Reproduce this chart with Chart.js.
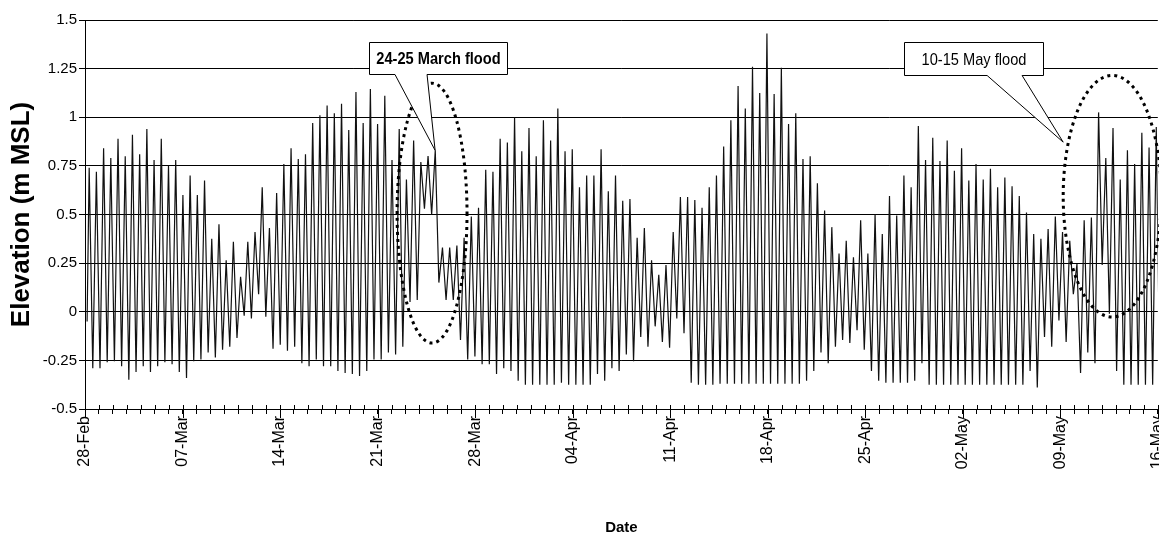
<!DOCTYPE html>
<html>
<head>
<meta charset="utf-8">
<script src="https://cdn.jsdelivr.net/npm/chart.js@4.4.1/dist/chart.umd.min.js"></script>
<style>
html,body{margin:0;padding:0;background:#fff;overflow:hidden;}
#wrap{position:relative;width:1179px;height:547px;}
</style>
</head>
<body>
<div id="wrap"><canvas id="c"></canvas></div>
<script>
// ---- tick labels ----
const xTickLabels = ['28-Feb','07-Mar','14-Mar','21-Mar','28-Mar','04-Apr','11-Apr','18-Apr','25-Apr','02-May','09-May','16-May'];
const yTickLabels = ['-0.5','-0.25','0','0.25','0.5','0.75','1','1.25','1.5'];

// ---- time base (days after 28-Feb) ----
const startDay = 0.15;
const startLevel = -0.05;
const firstHighDay = 0.3;
const tidePeriodDays = 0.5175;

// ---- high-water levels (m MSL), one per tide ----
const highs = [
 0.74,0.72,0.84,0.79,0.89,0.80,0.91,0.81,0.94,0.78,
 0.89,0.75,0.78,0.60,0.70,0.60,0.675,0.375,0.45,0.265,
 0.36,0.18,0.36,0.41,0.64,0.43,0.61,0.76,0.84,0.785,
 0.81,0.97,1.01,1.06,1.02,1.07,0.935,1.13,0.97,1.145,
 0.965,1.11,0.78,0.94,0.68,0.88,0.77,0.80,0.83,0.33,
 0.33,0.34,0.38,0.49,0.535,0.73,0.72,0.89,0.87,1.0,
 0.825,0.945,0.80,0.985,0.88,1.045,0.825,0.835,0.64,0.70,
 0.70,0.835,0.62,0.70,0.57,0.58,0.38,0.43,0.265,0.19,
 0.24,0.41,0.59,0.59,0.575,0.535,0.64,0.70,0.85,0.985,
 1.16,1.045,1.26,1.125,1.43,1.12,1.255,0.965,1.02,0.785,
 0.80,0.66,0.52,0.435,0.30,0.365,0.28,0.47,0.30,0.50,
 0.40,0.595,0.495,0.70,0.64,0.955,0.78,0.895,0.775,0.88,
 0.725,0.84,0.675,0.76,0.68,0.735,0.64,0.69,0.645,0.595,
 0.51,0.40,0.375,0.425,0.49,0.41,0.365,0.245,0.47,0.485,
 1.025,0.79,0.945,0.68,0.83,0.76,0.92,0.845,0.95
];
// ---- low-water levels (m MSL), the low after each high ----
const lows = [
 -0.29,-0.29,-0.26,-0.255,-0.28,-0.35,-0.31,-0.28,-0.31,-0.28,
 -0.26,-0.27,-0.31,-0.34,-0.255,-0.245,-0.21,-0.235,-0.195,-0.18,
 -0.135,-0.02,-0.035,0.09,-0.025,-0.19,-0.17,-0.20,-0.18,-0.265,
 -0.28,-0.245,-0.28,-0.28,-0.305,-0.315,-0.32,-0.33,-0.305,-0.245,
 -0.245,-0.21,-0.22,-0.18,0.05,0.06,0.53,0.50,0.15,0.06,
 0.06,-0.145,-0.245,-0.23,-0.27,-0.27,-0.32,-0.29,-0.305,-0.355,
 -0.375,-0.375,-0.375,-0.375,-0.375,-0.365,-0.375,-0.375,-0.375,-0.375,
 -0.32,-0.355,-0.29,-0.305,-0.22,-0.255,-0.13,-0.18,-0.075,-0.155,
 -0.185,-0.035,-0.11,-0.365,-0.375,-0.375,-0.375,-0.37,-0.37,-0.37,
 -0.37,-0.37,-0.37,-0.37,-0.37,-0.37,-0.37,-0.37,-0.37,-0.355,
 -0.305,-0.21,-0.265,-0.18,-0.145,-0.16,-0.095,-0.195,-0.305,-0.355,
 -0.365,-0.365,-0.365,-0.365,-0.355,-0.265,-0.375,-0.375,-0.375,-0.375,
 -0.375,-0.375,-0.375,-0.375,-0.375,-0.375,-0.375,-0.375,-0.375,-0.375,
 -0.305,-0.39,-0.13,-0.18,-0.045,-0.155,0.09,-0.315,-0.21,-0.265,
 0.24,-0.01,-0.305,-0.375,-0.375,-0.375,-0.375,-0.375,-0.38
];

// ---- annotations (data units: days, m MSL) ----
const floodEllipses = [
  {cx:24.91, cy:0.507, rx:2.51, ry:0.668},
  {cx:73.73, cy:0.594, rx:3.52, ry:0.621}
];
const callouts = [
  {text:'24-25 March flood', bold:true,  x0:20.39, x1:30.29, yTop:1.385, yBot:1.221, b0:22.25, b1:24.55, tipX:25.13, tipY:0.83},
  {text:'10-15 May flood',   bold:false, x0:58.79, x1:68.77, yTop:1.385, yBot:1.216, b0:64.75, b1:67.26, tipX:70.21, tipY:0.872}
];

const SANS = '"Liberation Sans", Arial, sans-serif';

// ---- build series ----
const points = [{x:startDay, y:startLevel}];
for (let i=0;i<highs.length;i++){
  points.push({x:firstHighDay + i*tidePeriodDays, y:highs[i]});
  if (i < lows.length) points.push({x:firstHighDay + (i+0.5)*tidePeriodDays, y:lows[i]});
}

const notesPlugin = {
  id:'notes',
  afterDatasetsDraw(chart){
    const {ctx, scales:{x, y}, chartArea} = chart;
    ctx.save();
    // x-axis day ticks: inner part + longer labelled ticks
    ctx.strokeStyle='#000'; ctx.lineWidth=1;
    const bot = Math.round(chartArea.bottom);
    for (let d=x.min; d<=x.max; d++){
      const px = Math.round(x.getPixelForValue(d))+0.5;
      ctx.beginPath();
      ctx.moveTo(px, bot-4);
      ctx.lineTo(px, bot + (d%7===0 ? 9 : 0));
      ctx.stroke();
    }
    // dotted ellipses
    ctx.lineWidth=3; ctx.setLineDash([3,4]); ctx.lineCap='butt';
    for (const e of floodEllipses){
      const cx=x.getPixelForValue(e.cx), cy=y.getPixelForValue(e.cy);
      const rx=Math.abs(x.getPixelForValue(e.cx+e.rx)-cx);
      const ry=Math.abs(y.getPixelForValue(e.cy+e.ry)-cy);
      ctx.beginPath(); ctx.ellipse(cx,cy,rx,ry,0,0,Math.PI*2); ctx.stroke();
    }
    ctx.setLineDash([]);
    // callouts
    for (const c of callouts){
      const L=Math.round(x.getPixelForValue(c.x0))+0.5, R=Math.round(x.getPixelForValue(c.x1))+0.5;
      const T=Math.round(y.getPixelForValue(c.yTop))+0.5, B=Math.round(y.getPixelForValue(c.yBot))+0.5;
      const b0=x.getPixelForValue(c.b0), b1=x.getPixelForValue(c.b1);
      const tx=x.getPixelForValue(c.tipX), ty=y.getPixelForValue(c.tipY);
      ctx.beginPath();
      ctx.moveTo(L,T); ctx.lineTo(R,T); ctx.lineTo(R,B); ctx.lineTo(b1,B);
      ctx.lineTo(tx,ty); ctx.lineTo(b0,B); ctx.lineTo(L,B); ctx.closePath();
      ctx.fillStyle='#fff'; ctx.fill();
      ctx.lineWidth=1; ctx.strokeStyle='#000'; ctx.stroke();
      ctx.save();
      ctx.fillStyle='#000';
      ctx.font=(c.bold?'bold ':'')+'17px '+SANS;
      ctx.textAlign='center'; ctx.textBaseline='middle';
      ctx.translate((L+R)/2,(T+B)/2+1);
      ctx.scale(0.86,1);
      ctx.fillText(c.text,0,0);
      ctx.restore();
    }
    ctx.restore();
  }
};

new Chart(document.getElementById('c'), {
  type:'line',
  data:{datasets:[{
    data:points,
    borderColor:'#111',
    borderWidth:1.2,
    pointRadius:0,
    tension:0,
    fill:false
  }]},
  options:{
    responsive:true, maintainAspectRatio:false, animation:false, devicePixelRatio:1,
    layout:{padding:{top:20,left:0,right:0,bottom:0}},
    plugins:{legend:{display:false}, tooltip:{enabled:false}},
    scales:{
      x:{
        type:'linear', min:0, max:77,
        afterFit(s){ s.height = 138; },
        ticks:{
          stepSize:1, autoSkip:false, minRotation:90, maxRotation:90, padding:2,
          color:'#000', font:{family:SANS, size:16},
          callback:(v)=> (v%7===0 ? (xTickLabels[v/7]||'') : '')
        },
        grid:{display:true, drawOnChartArea:false, drawTicks:true, tickLength:5, color:'#000', lineWidth:1},
        border:{display:true, color:'#000', width:1},
        title:{display:true, text:'Date', color:'#000', font:{family:SANS, size:15, weight:'bold'}, padding:{top:0,bottom:10}}
      },
      y:{
        min:-0.5, max:1.5,
        afterFit(s){ s.width = 85; },
        ticks:{
          stepSize:0.25, padding:2, color:'#000',
          font:{family:SANS, size:15},
          callback:(v)=>{ const i=Math.round((v+0.5)/0.25); return yTickLabels[i]!==undefined?yTickLabels[i]:''; }
        },
        grid:{color:'#000', lineWidth:1, tickLength:6},
        border:{display:true, color:'#000', width:1},
        title:{display:true, text:'Elevation (m MSL)', color:'#000', font:{family:SANS, size:26, weight:'bold'}, padding:{top:6,bottom:0}}
      }
    }
  },
  plugins:[notesPlugin]
});
</script>
</body>
</html>
